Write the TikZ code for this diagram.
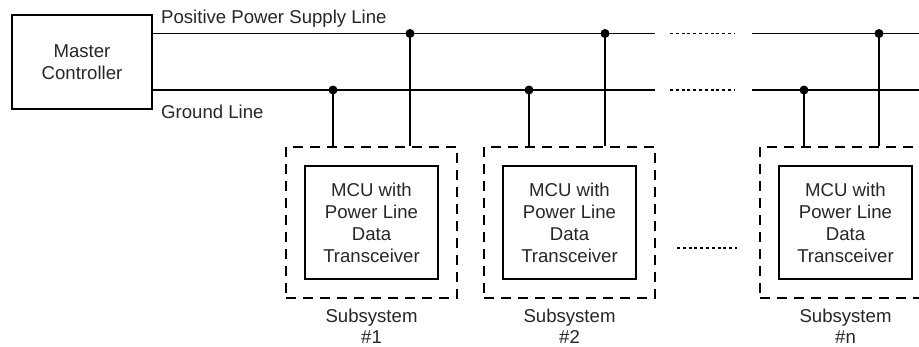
\documentclass[tikz,border=0pt]{standalone}
\usepackage{fontspec}
\setmainfont{Liberation Sans}
\begin{document}
\begin{tikzpicture}[x=1pt,y=-1pt,
  wire/.style={line width=1.3pt,black},
  solidbox/.style={draw,line width=1.3pt,inner sep=0pt,align=center,text=black!85,
    font=\fontsize{18.6}{21.9}\selectfont},
  dashbox/.style={draw,line width=1.3pt,dash pattern=on 10pt off 7pt,minimum width=171pt,minimum height=151pt,inner sep=0pt},
  dotline/.style={line width=1.3pt,dash pattern=on 3pt off 2.8pt},
  lbl/.style={inner sep=0pt,text=black!85,font=\fontsize{18.6}{21.2}\selectfont,align=center},
  junction/.style={circle,fill=black,inner sep=0pt,minimum size=9pt}]
\clip (0,0) rectangle (919,346);
% master controller
\node[solidbox,minimum width=140pt,minimum height=94pt] (mc) at (82,62) {Master\\Controller};
\node[lbl,anchor=base west] (lpos) at (161,23) {Positive Power Supply Line};
\node[lbl,anchor=base west] (lgnd) at (161,118.3) {Ground Line};
% subsystem boxes
\node[dashbox] (s1) at (371.5,222.5) {};
\node[dashbox] (s2) at (569.5,222.5) {};
\node[dashbox] (sn) at (845.5,222.5) {};
\node[solidbox,minimum width=133pt,minimum height=113pt] (m1) at (s1) {MCU with\\Power Line\\Data\\Transceiver};
\node[solidbox,minimum width=133pt,minimum height=113pt] (m2) at (s2) {MCU with\\Power Line\\Data\\Transceiver};
\node[solidbox,minimum width=133pt,minimum height=113pt] (mn) at (sn) {MCU with\\Power Line\\Data\\Transceiver};
\node[lbl,anchor=base] (t1) at (371.5,343.5) {Subsystem\\\#1};
\node[lbl,anchor=base] (t2) at (569.5,343.5) {Subsystem\\\#2};
\node[lbl,anchor=base] (tn) at (845.5,343.5) {Subsystem\\\#n};
% line end coordinates
\coordinate (pa) at (655,33.5);
\coordinate (pb) at (670,33.5);
\coordinate (pc) at (734,33.5);
\coordinate (pd) at (752,33.5);
\coordinate (pe) at (925,33.5);
\coordinate (ga) at (655,90);
\coordinate (gb) at (670,90);
\coordinate (gc) at (734,90);
\coordinate (gd) at (752,90);
\coordinate (ge) at (925,90);
% junctions
\node[junction] (g1) at (333,90) {};
\node[junction] (p1) at (410,33.5) {};
\node[junction] (g2) at (529,90) {};
\node[junction] (p2) at (605,33.5) {};
\node[junction] (gn) at (804,90) {};
\node[junction] (pn) at (879,33.5) {};
% buses
\draw[wire] (mc.east |- pa) -- (pa);
\draw[dotline] (pb) -- (pc);
\draw[wire] (pd) -- (pe);
\draw[wire] (mc.east |- ga) -- (ga);
\draw[dotline] (gb) -- (gc);
\draw[wire] (gd) -- (ge);
% drops
\draw[wire] (g1.center) -- (g1.center |- s1.north);
\draw[wire] (p1.center) -- (p1.center |- s1.north);
\draw[wire] (g2.center) -- (g2.center |- s2.north);
\draw[wire] (p2.center) -- (p2.center |- s2.north);
\draw[wire] (gn.center) -- (gn.center |- sn.north);
\draw[wire] (pn.center) -- (pn.center |- sn.north);
% dotted between subsystems
\coordinate (da) at (677,248);
\coordinate (db) at (737,248);
\draw[dotline] (da) -- (db);
\end{tikzpicture}
\end{document}
